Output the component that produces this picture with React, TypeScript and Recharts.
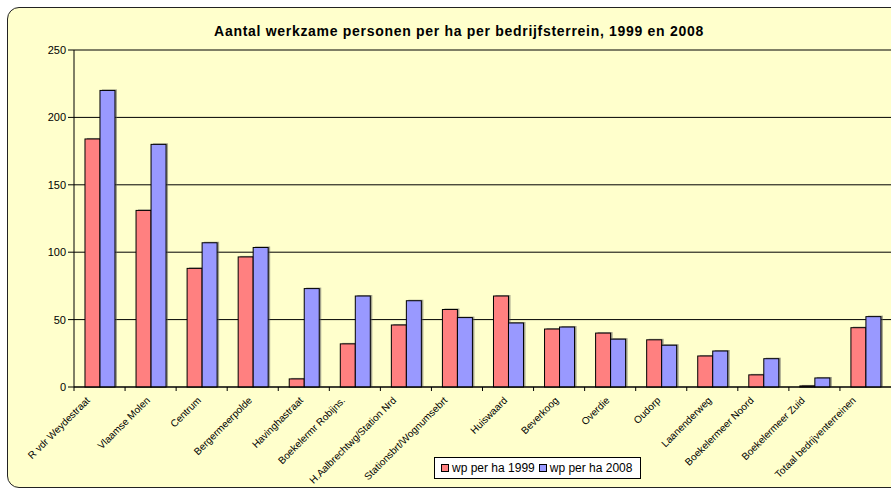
import React from "react";
import { BarChart, Bar, XAxis, YAxis, CartesianGrid, Legend } from "recharts";

const terreinen = [
  "R vdr Weydestraat",
  "Vlaamse Molen",
  "Centrum",
  "Bergermeerpolde",
  "Havinghastraat",
  "Boekelermr Robijns.",
  "H.Aalbrechtwg/Station Nrd",
  "Stationsbrt/Wognumsebrt",
  "Huiswaard",
  "Beverkoog",
  "Overdie",
  "Oudorp",
  "Laanenderweg",
  "Boekelermeer Noord",
  "Boekelermeer Zuid",
  "Totaal bedrijventerreinen",
];

const wp1999 = [184, 131, 88, 96.5, 6, 32, 46, 57.5, 67.5, 43, 40, 35, 23, 9, 0.8, 44];
const wp2008 = [220, 180, 107, 103.5, 73, 67.5, 64, 51.5, 47.5, 44.5, 35.5, 31, 26.7, 21, 6.7, 52.2];

const yTicks = [0, 50, 100, 150, 200, 250];

const data = terreinen.map((name, i) => ({ name, v1999: wp1999[i], v2008: wp2008[i] }));

const FONT = "'Liberation Sans', Arial, sans-serif";
const BAND = (891 - 74) / terreinen.length;

const ShadowBar = (props: any) => {
  const { x, y, width, height, fill } = props;
  if (!height || height <= 0) return null;
  return (
    <g>
      <rect x={x + 2} y={y - 1} width={width} height={height + 1} fill="#555" opacity={0.55} />
      <rect x={x} y={y} width={width} height={height} fill={fill} stroke="#000" strokeWidth={1} />
    </g>
  );
};

const CategoryTick = (props: any) => {
  const { x, y, payload } = props;
  const label = String(payload.value);
  // long labels sit a bit further left, like in the original chart
  const lx = x + (label.length >= 17 ? -9 : 0);
  const ly = y + 14;
  return (
    <g>
      <line x1={x - BAND / 2} x2={x - BAND / 2} y1={y} y2={y + 4} stroke="#000" />
      <text
        x={lx}
        y={ly}
        textAnchor="end"
        fontSize={10}
        fontFamily={FONT}
        fill="#000"
        transform={`rotate(-45, ${lx}, ${ly})`}
      >
        {label}
      </text>
    </g>
  );
};

const LegendBox = () => (
  <div
    style={{
      display: "flex",
      alignItems: "center",
      height: "100%",
      paddingLeft: 6,
      fontFamily: FONT,
      fontSize: 12,
      color: "#000",
      boxSizing: "border-box",
    }}
  >
    <span style={{ width: 6, height: 6, background: "#FF8080", border: "1px solid #000", marginRight: 3 }} />
    <span style={{ marginRight: 4 }}>wp per ha 1999</span>
    <span style={{ width: 6, height: 6, background: "#9999FF", border: "1px solid #000", marginRight: 3 }} />
    <span>wp per ha 2008</span>
  </div>
);

export default function App() {
  return (
    <div style={{ position: "fixed", left: 0, top: 0, width: 891, height: 490, overflow: "hidden", background: "#fff" }}>
      <div
        style={{
          position: "absolute",
          left: 7,
          top: 7,
          width: 920,
          height: 481,
          borderRadius: 12,
          border: "1.5px solid #222",
          background: "#FFFFCC",
          boxSizing: "border-box",
        }}
      />
      <div
        style={{
          position: "absolute",
          left: 0,
          top: 23,
          width: 918,
          textAlign: "center",
          fontFamily: FONT,
          fontWeight: "bold",
          fontSize: 14,
          letterSpacing: 0.7,
          lineHeight: "16px",
          color: "#000",
        }}
      >
        Aantal werkzame personen per ha per bedrijfsterrein, 1999 en 2008
      </div>
      <div style={{ position: "absolute", left: 0, top: 0 }}>
        <BarChart
          width={891}
          height={490}
          data={data}
          margin={{ top: 50, right: 0, left: 0, bottom: 0 }}
          barCategoryGap="21.5%"
          barGap={0}
        >
          <CartesianGrid vertical={false} stroke="#000" strokeWidth={1} />
          <XAxis
            dataKey="name"
            height={103}
            interval={0}
            axisLine={{ stroke: "#000" }}
            tickLine={false}
            tickSize={0}
            tickMargin={0}
            tick={<CategoryTick />}
          />
          <YAxis
            width={74}
            domain={[0, 250]}
            ticks={yTicks}
            axisLine={{ stroke: "#000" }}
            tickLine={{ stroke: "#000" }}
            tickSize={6}
            tickMargin={2}
            tick={{ fill: "#000", fontSize: 11, fontFamily: FONT }}
          />
          <Legend
            layout="horizontal"
            verticalAlign="middle"
            align="center"
            content={<LegendBox />}
            wrapperStyle={{
              left: 434,
              top: 457,
              width: 207,
              height: 22,
              background: "#fff",
              border: "1px solid #000",
              boxSizing: "border-box",
            }}
          />
          <Bar dataKey="v1999" name="wp per ha 1999" fill="#FF8080" shape={<ShadowBar />} isAnimationActive={false} />
          <Bar dataKey="v2008" name="wp per ha 2008" fill="#9999FF" shape={<ShadowBar />} isAnimationActive={false} />
        </BarChart>
      </div>
    </div>
  );
}
